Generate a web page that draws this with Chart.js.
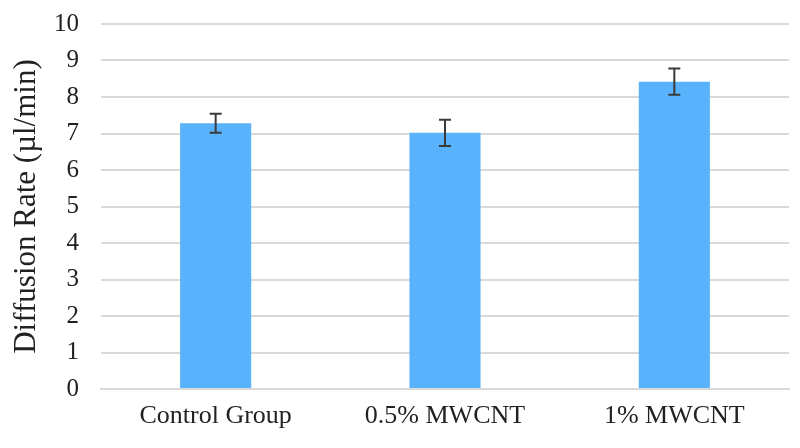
<!DOCTYPE html>
<html>
<head>
<meta charset="utf-8">
<script src="https://cdn.jsdelivr.net/npm/chart.js@4/dist/chart.umd.min.js"></script>
<style>
html,body{margin:0;padding:0;background:#fff;}
#wrap{width:800px;height:448px;}
</style>
</head>
<body>
<div id="wrap"><canvas id="c" width="800" height="448"></canvas></div>
<script>
const categories = ["Control Group", "0.5% MWCNT", "1% MWCNT"];
const rates = [7.28, 7.02, 8.42];
const errors = [0.26, 0.36, 0.36];
const yTicks = [0,1,2,3,4,5,6,7,8,9,10];

const errorBarPlugin = {
  id: 'errorBars',
  afterDatasetsDraw(chart) {
    const ctx = chart.ctx;
    const meta = chart.getDatasetMeta(0);
    const y = chart.scales.y;
    ctx.save();
    ctx.strokeStyle = '#3a3a3a';
    ctx.lineWidth = 2;
    meta.data.forEach((bar, i) => {
      const v = rates[i], e = errors[i];
      const top = y.getPixelForValue(v + e);
      const bot = y.getPixelForValue(v - e);
      const x = bar.x;
      const cap = 6;
      ctx.beginPath();
      ctx.moveTo(x, top); ctx.lineTo(x, bot);
      ctx.moveTo(x - cap, top); ctx.lineTo(x + cap, top);
      ctx.moveTo(x - cap, bot); ctx.lineTo(x + cap, bot);
      ctx.stroke();
    });
    ctx.restore();
  }
};

new Chart(document.getElementById('c'), {
  type: 'bar',
  data: {
    labels: categories,
    datasets: [{
      data: rates,
      backgroundColor: '#58b2fc',
      borderWidth: 0,
      categoryPercentage: 1,
      barPercentage: 0.31
    }]
  },
  options: {
    responsive: false,
    animation: false,
    devicePixelRatio: 1,
    layout: { padding: { top: 24, right: 11, left: 0, bottom: 0 } },
    plugins: { legend: { display: false }, tooltip: { enabled: false } },
    scales: {
      x: {
        grid: { display: false, drawTicks: false },
        border: { display: true, color: '#d9d9d9', width: 2 },
        ticks: {
          color: '#222',
          font: { family: 'Liberation Serif', size: 26 },
          padding: 12,
          maxRotation: 0
        },
        afterFit(scale) { scale.height = 59; scale.paddingLeft = 0; scale.paddingRight = 0; }
      },
      y: {
        min: 0, max: 10,
        afterBuildTicks(scale) { scale.ticks = yTicks.map(v => ({ value: v })); },
        grid: { color: '#d9d9d9', lineWidth: 2, drawTicks: false },
        border: { display: false },
        ticks: {
          color: '#222',
          font: { family: 'Liberation Serif', size: 25 },
          padding: 22
        },
        title: {
          display: true,
          text: 'Diffusion Rate (µl/min)',
          color: '#222',
          font: { family: 'Liberation Serif', size: 31 },
          padding: { top: 8, bottom: 0 }
        },
        afterFit(scale) { scale.width = 101; scale.paddingTop = 0; scale.paddingBottom = 0; }
      }
    }
  },
  plugins: [errorBarPlugin]
});
</script>
</body>
</html>
